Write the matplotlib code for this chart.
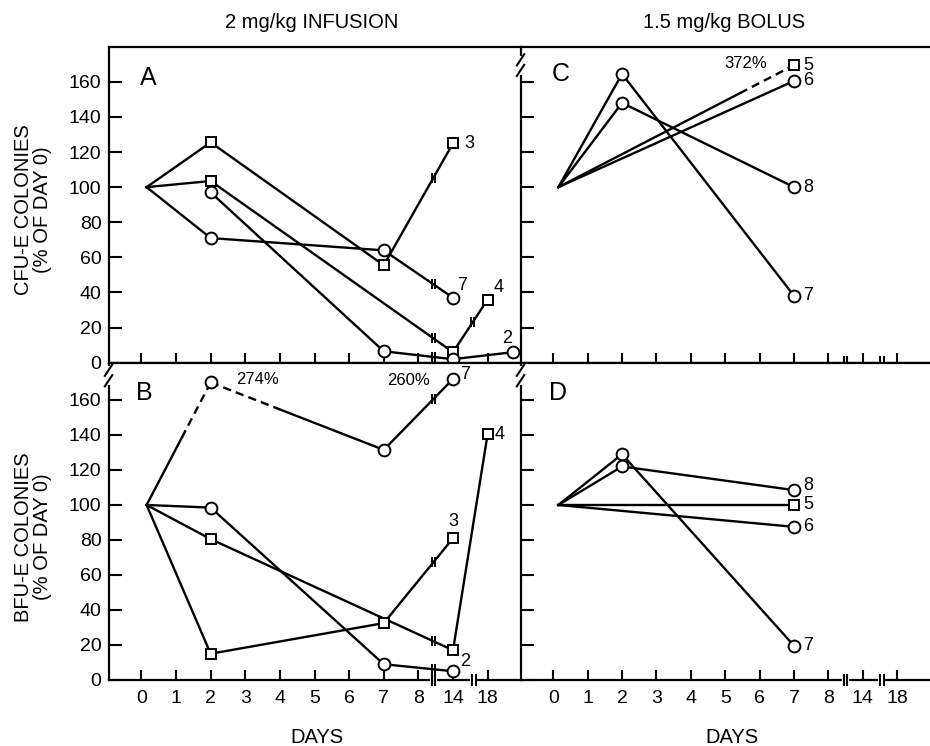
import numpy as np
import matplotlib.pyplot as plt
from matplotlib.lines import Line2D

plt.rcParams['font.family'] = ['Liberation Sans', 'DejaVu Sans']

# x axis is broken: days 0..8 sit at 0..8, day 14 at 9, day 18 at 10
tick_pos = [0, 1, 2, 3, 4, 5, 6, 7, 8, 9, 10]
tick_lab = ['0', '1', '2', '3', '4', '5', '6', '7', '8', '14', '18']

# A - CFU-E, 2 mg/kg infusion
a3_x = [0.15, 2, 7, 9];     a3_y = [100, 125.5, 55.5, 125]
a7_x = [0.15, 2, 7, 9];     a7_y = [100, 71, 64, 37]
a4_x = [0.15, 2, 9, 10];    a4_y = [100, 103.5, 6, 36]
a2_x = [2, 7, 9, 10.73];    a2_y = [97, 6.5, 2, 6]

# B - BFU-E, 2 mg/kg infusion (274% and 260% drawn off scale)
b7_x = [0.15, 2, 7, 9];     b7_y = [100, 170, 131.5, 172]
b3_x = [0.15, 2, 7, 9];     b3_y = [100, 15, 32.5, 81]
b4_x = [0.15, 2, 9, 10];    b4_y = [100, 80.5, 17, 140.5]
b2_x = [0.15, 2, 7, 9];     b2_y = [100, 98.5, 9, 5]

# C - CFU-E, 1.5 mg/kg bolus (372% drawn off scale)
c7_x = [0.15, 2, 7];        c7_y = [100, 164.5, 38]
c8_x = [0.15, 2, 7];        c8_y = [100, 148, 100]
c5_x = [0.15, 7];           c5_y = [100, 169.5]
c6_x = [0.15, 7];           c6_y = [100, 160.5]

# D - BFU-E, 1.5 mg/kg bolus
d7_x = [0.15, 2, 7];        d7_y = [100, 129, 19.5]
d8_x = [0.15, 2, 7];        d8_y = [100, 122, 108.5]
d5_x = [0.15, 7];           d5_y = [100, 100]
d6_x = [0.15, 7];           d6_y = [100, 87.5]

LW = 1.7

fig = plt.figure(figsize=(9.3, 7.46), dpi=100)
axA = fig.add_axes([0.1167, 0.5138, 0.443, 0.4236])
axB = fig.add_axes([0.1167, 0.0885, 0.443, 0.4253])
axC = fig.add_axes([0.5597, 0.5138, 0.4403, 0.4236])
axD = fig.add_axes([0.5597, 0.0885, 0.4403, 0.4253])


def draw_series(ax, x, y, marker, dash=None, breaks=()):
    x = np.asarray(x, float)
    y = np.asarray(y, float)
    dash = dash or {}
    for i in range(len(x) - 1):
        p0 = np.array([x[i], y[i]])
        p1 = np.array([x[i + 1], y[i + 1]])
        f0, f1 = dash.get(i, (1.0, 1.0))
        b = p0 + f0 * (p1 - p0)
        c = p0 + f1 * (p1 - p0)
        ax.plot([p0[0], b[0]], [p0[1], b[1]], color='k', lw=LW, zorder=3)
        if f1 > f0:
            ax.plot([b[0], c[0]], [b[1], c[1]], color='k', lw=LW,
                    ls=(0, (3.5, 2.2)), zorder=3)
        ax.plot([c[0], p1[0]], [c[1], p1[1]], color='k', lw=LW, zorder=3)
    # little break bars where a line crosses the axis break
    for bx in breaks:
        by = np.interp(bx, x, y)
        ax.plot([bx - 0.045, bx + 0.045], [by, by], ls='none', marker='|',
                ms=7, mew=1.4, color='k', zorder=4)
    m = x > 0.5
    ax.plot(x[m], y[m], ls='none', marker=marker,
            ms=8.5 if marker == 'o' else 7.5, mfc='white', mec='k',
            mew=1.4, zorder=5)


def note(ax, x, y, txt, dx, dy, ha='center', size=13):
    ax.annotate(txt, (x, y), xytext=(dx, dy), textcoords='offset points',
                ha=ha, va='center', fontsize=size)


def style(ax, ylim, xlabels, ylabels, xbreaks, ybreak):
    ax.set_xlim(-0.95, 10.95)
    ax.set_ylim(*ylim)
    ax.set_xticks(tick_pos)
    ax.set_xticklabels(tick_lab if xlabels else [])
    ax.set_yticks(np.arange(0, 161, 20))
    if not ylabels:
        ax.set_yticklabels([])
    ax.tick_params(axis='y', direction='in', length=9, width=1.5,
                   labelsize=14, pad=5)
    ax.tick_params(axis='x', direction='in', length=7, width=1.5,
                   labelsize=14, pad=7)
    for s in ax.spines.values():
        s.set_linewidth(1.6)
    ax.spines['right'].set_visible(False)
    # axis break on the day axis
    tr = ax.get_xaxis_transform()
    for bx in xbreaks:
        ax.add_line(Line2D([bx - 0.04, bx + 0.04], [0, 0], transform=tr,
                           color='white', lw=3, zorder=6, clip_on=False))
        for sx in (-0.05, 0.05):
            ax.add_line(Line2D([bx + sx, bx + sx], [-0.017, 0.017],
                               transform=tr, color='k', lw=1.5, zorder=7,
                               clip_on=False))
    # "//" on the value axis
    if ybreak is not None:
        ty = ax.get_yaxis_transform()
        ax.add_line(Line2D([0, 0], [ybreak - 4, ybreak + 4], transform=ty,
                           color='white', lw=3.5, zorder=6, clip_on=False))
        for off in (-3.0, 3.0):
            ax.add_line(Line2D([-0.009, 0.009],
                               [ybreak + off - 3.2, ybreak + off + 3.2],
                               transform=ty, color='k', lw=1.5, zorder=7,
                               clip_on=False))


style(axA, (0, 180), False, True, [8.43], None)
style(axB, (0, 181.3), True, True, [8.43, 9.6], 174)
style(axC, (0, 180), False, False, [8.5, 9.55], 169.5)
style(axD, (0, 181.3), True, False, [8.5, 9.55], 174)

# panel A
draw_series(axA, a3_x, a3_y, 's', breaks=[8.43])
draw_series(axA, a7_x, a7_y, 'o', breaks=[8.43])
draw_series(axA, a4_x, a4_y, 's', breaks=[8.43, 9.57])
draw_series(axA, a2_x, a2_y, 'o', breaks=[8.43])
note(axA, a3_x[-1], a3_y[-1], '3', 12, 0)
note(axA, a7_x[-1], a7_y[-1], '7', 6.5, 9)
note(axA, a4_x[-1], a4_y[-1], '4', 8, 9)
note(axA, a2_x[-1], a2_y[-1], '2', -4.5, 10)

# panel B
draw_series(axB, b7_x, b7_y, 'o', dash={0: (0.55, 1.0), 1: (0.0, 0.4)},
            breaks=[8.43])
draw_series(axB, b3_x, b3_y, 's', breaks=[8.43])
draw_series(axB, b4_x, b4_y, 's', breaks=[8.43])
draw_series(axB, b2_x, b2_y, 'o', breaks=[8.43])
note(axB, b7_x[1], b7_y[1], '274%', 18, 2, ha='left', size=12)
note(axB, b7_x[-1], b7_y[-1], '260%', -16.5, -1, ha='right', size=12)
note(axB, b7_x[-1], b7_y[-1], '7', 8.5, 3)
note(axB, b3_x[-1], b3_y[-1], '3', 0, 12)
note(axB, b4_x[-1], b4_y[-1], '4', 8.5, 0)
note(axB, b2_x[-1], b2_y[-1], '2', 8.5, 7)

# panel C
draw_series(axC, c7_x, c7_y, 'o')
draw_series(axC, c8_x, c8_y, 'o')
draw_series(axC, c5_x, c5_y, 's', dash={0: (0.77, 1.0)})
draw_series(axC, c6_x, c6_y, 'o')
note(axC, c5_x[-1], c5_y[-1], '372%', -19.5, 1.5, ha='right', size=12)
for xs, ys, lab in [(c5_x, c5_y, '5'), (c6_x, c6_y, '6'),
                    (c8_x, c8_y, '8'), (c7_x, c7_y, '7')]:
    note(axC, xs[-1], ys[-1], lab, 10, 0)

# panel D
draw_series(axD, d7_x, d7_y, 'o')
draw_series(axD, d8_x, d8_y, 'o')
draw_series(axD, d5_x, d5_y, 's')
draw_series(axD, d6_x, d6_y, 'o')
note(axD, d8_x[-1], d8_y[-1], '8', 10, 3.5)
for xs, ys, lab in [(d5_x, d5_y, '5'), (d6_x, d6_y, '6'), (d7_x, d7_y, '7')]:
    note(axD, xs[-1], ys[-1], lab, 10, 0)

# panel letters
axA.text(0.096, 0.9025, 'A', transform=axA.transAxes, ha='center', va='center', fontsize=18)
axB.text(0.086, 0.906, 'B', transform=axB.transAxes, ha='center', va='center', fontsize=18)
axC.text(0.099, 0.913, 'C', transform=axC.transAxes, ha='center', va='center', fontsize=18)
axD.text(0.092, 0.905, 'D', transform=axD.transAxes, ha='center', va='center', fontsize=18)

# titles and axis labels
fig.text(0.3355, 0.9705, '2 mg/kg INFUSION', ha='center', va='center', fontsize=14.5)
fig.text(0.7785, 0.9705, '1.5 mg/kg BOLUS', ha='center', va='center', fontsize=14.5)
fig.text(0.035, 0.7185, 'CFU-E COLONIES\n(% OF DAY 0)', ha='center', va='center',
         rotation=90, fontsize=14.5, linespacing=1.0)
fig.text(0.035, 0.28, 'BFU-E COLONIES\n(% OF DAY 0)', ha='center', va='center',
         rotation=90, fontsize=14.5, linespacing=1.0)
fig.text(0.341, 0.012, 'DAYS', ha='center', va='center', fontsize=14.5)
fig.text(0.787, 0.012, 'DAYS', ha='center', va='center', fontsize=14.5)

fig.savefig('out.png', dpi=100)
